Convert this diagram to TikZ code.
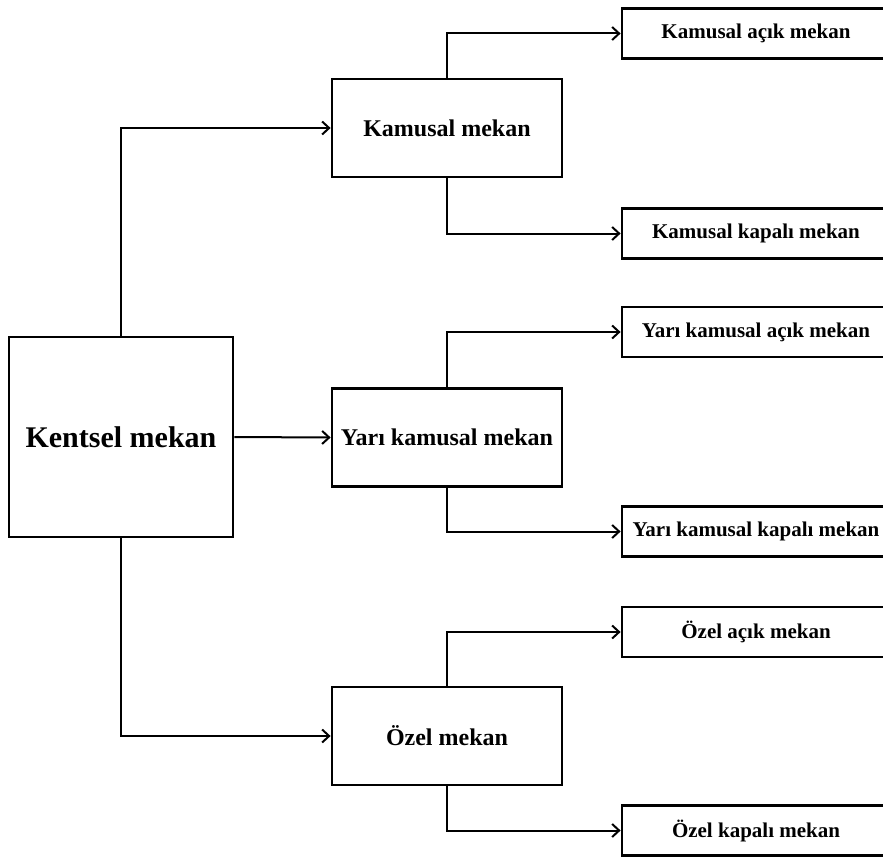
\documentclass[tikz,border=0pt]{standalone}
\usepackage{fontspec}
\setmainfont{Liberation Serif}
\usetikzlibrary{arrows.meta}

\tikzset{
  mainbox/.style={draw, line width=2.8pt, minimum width=224pt, minimum height=200pt,
    font=\fontsize{30}{34}\selectfont\bfseries},
  midbox/.style={draw, line width=2.8pt, minimum width=230pt, minimum height=98pt,
    font=\fontsize{24}{28}\selectfont\bfseries},
  leafbox/.style={draw, line width=2.8pt, minimum width=268pt, minimum height=50pt,
    font=\fontsize{21}{25}\selectfont\bfseries},
  conn/.style={line width=2pt, -{Straight Barb[length=7pt,width=13pt,line width=2pt]}}
}

\begin{document}
\begin{tikzpicture}[x=1pt,y=-1pt]
  % Parameters
  \def\midx{447}
  \def\leafx{756}

  % Page frame (the leaf boxes run off the right edge)
  \clip (0,0) rectangle (883,859);
  \fill[white] (0,0) rectangle (883,859);

  % Root
  \node[mainbox] (kentsel) at (121,437) {Kentsel mekan};

  % Middle level
  \node[midbox] (kamusal) at (\midx,128) {Kamusal mekan};
  \node[midbox] (yari)    at (\midx,437.5) {Yarı kamusal mekan};
  \node[midbox] (ozel)    at (\midx,736) {Özel mekan};

  % Leaves
  \node[leafbox] (kacik)   at (\leafx,33.5)  {Kamusal açık mekan};
  \node[leafbox] (kkapali) at (\leafx,233.5) {Kamusal kapalı mekan};
  \node[leafbox] (yacik)   at (\leafx,332)   {Yarı kamusal açık mekan};
  \node[leafbox] (ykapali) at (\leafx,531.5) {Yarı kamusal kapalı mekan};
  \node[leafbox] (oacik)   at (\leafx,632)   {Özel açık mekan};
  \node[leafbox] (okapali) at (\leafx,830.5) {Özel kapalı mekan};

  % Root to middle level
  \draw[conn] (kentsel.north) |- (kamusal.west);
  \draw[conn] (kentsel.east) -- (yari.west);
  \draw[conn] (kentsel.south) |- (ozel.west);

  % Middle level to leaves
  \draw[conn] (kamusal.north) |- (kacik.west);
  \draw[conn] (kamusal.south) |- (kkapali.west);
  \draw[conn] (yari.north) |- (yacik.west);
  \draw[conn] (yari.south) |- (ykapali.west);
  \draw[conn] (ozel.north) |- (oacik.west);
  \draw[conn] (ozel.south) |- (okapali.west);

\end{tikzpicture}
\end{document}
